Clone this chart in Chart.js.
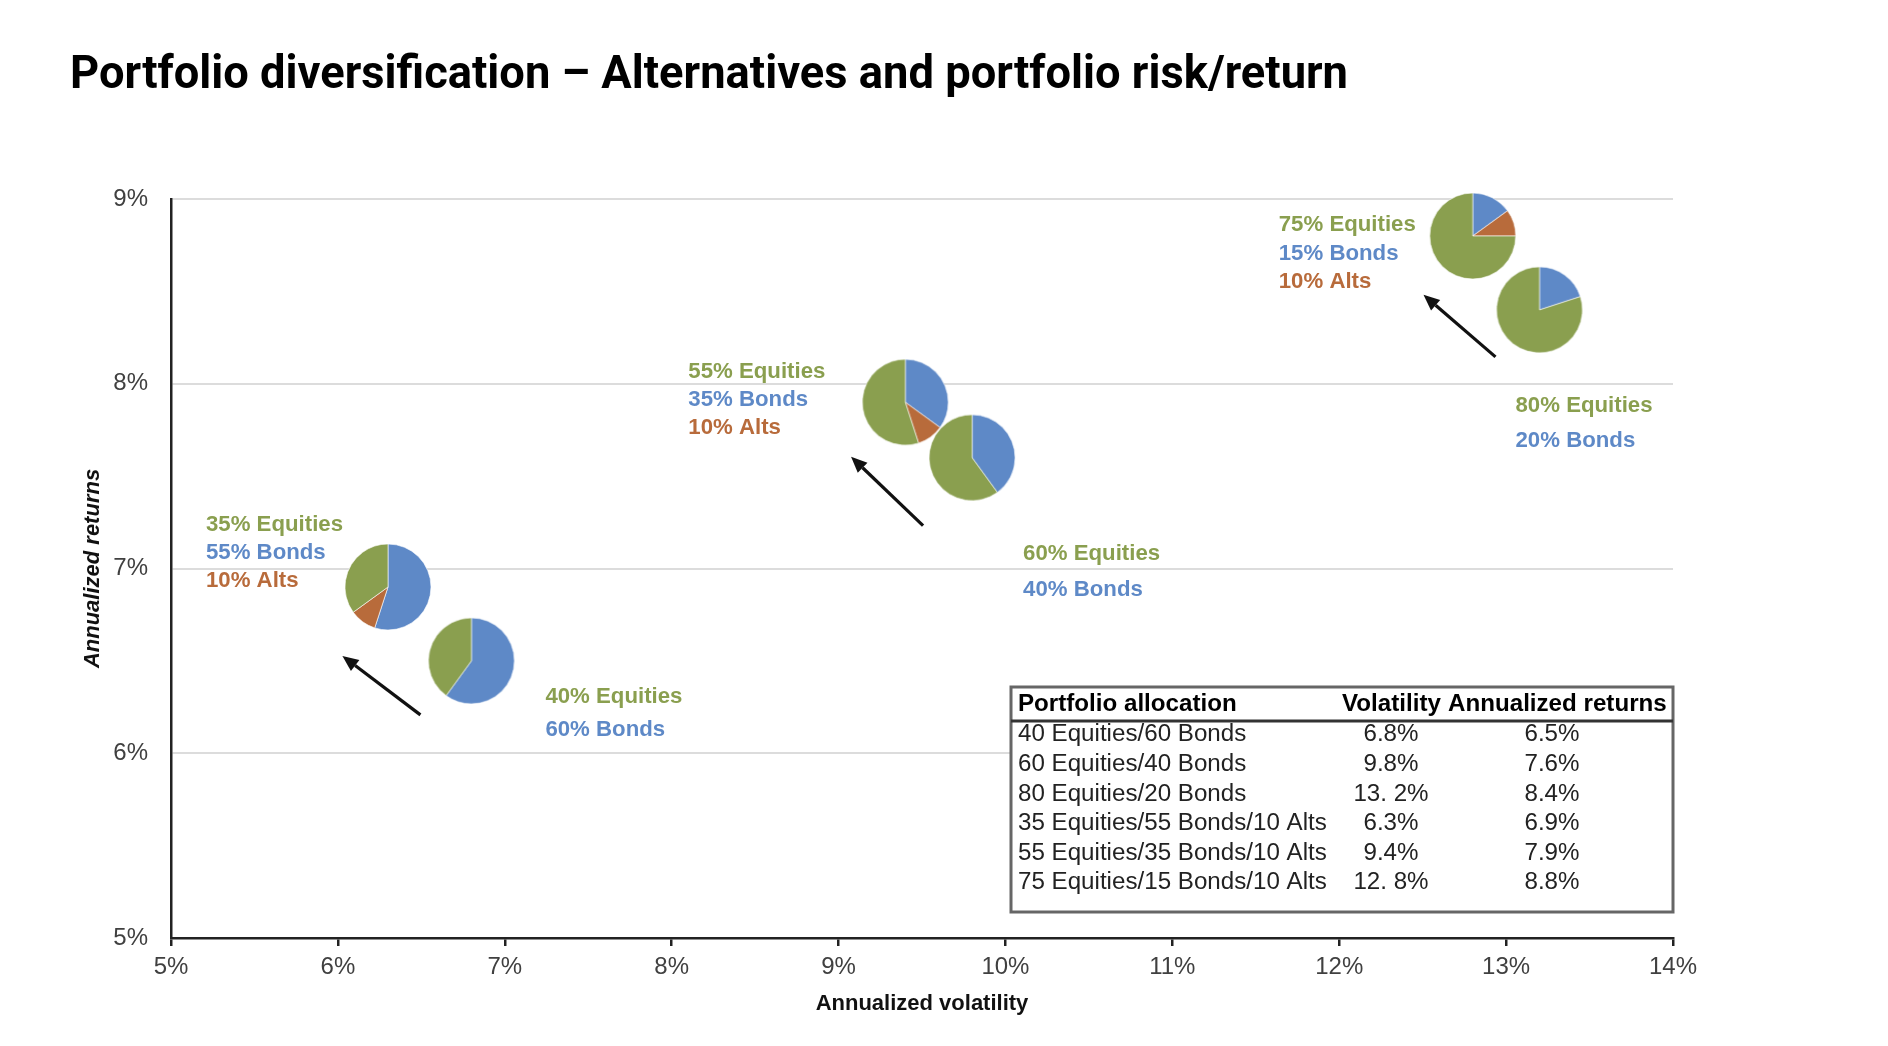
<!DOCTYPE html>
<html>
<head>
<meta charset="utf-8">
<script src="https://cdn.jsdelivr.net/npm/chart.js@4.4.1/dist/chart.umd.min.js"></script>
<style>
  html, body { margin: 0; padding: 0; background: #fff; }
  #wrap { width: 1888px; height: 1046px; position: relative; }
</style>
</head>
<body>
<div id="wrap"><canvas id="myChart"></canvas></div>
<script>
const chartTitle = 'Portfolio diversification \u2013 Alternatives and portfolio risk/return';

// portfolios, in the order of the table
const allocations = [
  '40 Equities/60 Bonds',
  '60 Equities/40 Bonds',
  '80 Equities/20 Bonds',
  '35 Equities/55 Bonds/10 Alts',
  '55 Equities/35 Bonds/10 Alts',
  '75 Equities/15 Bonds/10 Alts'
];
const volatility = [6.8, 9.8, 13.2, 6.3, 9.4, 12.8];   // x, %
const returns    = [6.5, 7.6, 8.4, 6.9, 7.9, 8.8];     // y, %
const volText    = ['6.8%', '9.8%', '13. 2%', '6.3%', '9.4%', '12. 8%'];
const retText    = ['6.5%', '7.6%', '8.4%', '6.9%', '7.9%', '8.8%'];

const equities = [40, 60, 80, 35, 55, 75];
const bonds    = [60, 40, 20, 55, 35, 15];
const alts     = [0, 0, 0, 10, 10, 10];

const xTickLabels = ['5%', '6%', '7%', '8%', '9%', '10%', '11%', '12%', '13%', '14%'];
const yTickLabels = ['5%', '6%', '7%', '8%', '9%'];

const GREEN = '#8a9f4f', BLUE = '#5e89c7', ORANGE = '#b86b3b';
const FONT = "'Liberation Sans', Arial, sans-serif";
const PIE_R = 43;

// label placement relative to each pie: [dx, dy of first line, line gap]
const labelOffsets = [[74, 36, 33], [51, 96, 36], [-24, 96, 35], [-182, -62, 28], [-217, -30, 28], [-194, -11, 28.5]];
// arrows from the two-asset pies: [tail dx, tail dy, tip dx, tip dy]
const arrowOffsets = [[-51, 54, -129, -5], [-49, 68, -121, -1], [-44, 47, -116, -15]];

function makePie(i) {
  const c = document.createElement('canvas');
  c.width = c.height = PIE_R * 2 + 4;
  const g = c.getContext('2d');
  const cc = PIE_R + 2;
  let a = -Math.PI / 2;
  [[bonds[i], BLUE], [alts[i], ORANGE], [equities[i], GREEN]].forEach(([v, col]) => {
    if (!v) return;
    const b = a + v / 100 * Math.PI * 2;
    g.beginPath();
    g.moveTo(cc, cc);
    g.arc(cc, cc, PIE_R, a, b);
    g.closePath();
    g.fillStyle = col;
    g.fill();
    g.strokeStyle = 'rgba(255,255,255,0.6)';
    g.lineWidth = 1;
    g.stroke();
    a = b;
  });
  return c;
}
const pies = allocations.map((_, i) => makePie(i));

function scaledText(ctx, text, x, y, sx, align) {
  ctx.save();
  ctx.translate(x, y);
  ctx.scale(sx, 1);
  ctx.textAlign = align || 'left';
  ctx.fillText(text, 0, 0);
  ctx.restore();
}

const overlay = {
  id: 'overlay',
  afterDatasetsDraw(chart) {
    const ctx = chart.ctx;
    const pts = chart.getDatasetMeta(0).data;

    // pie labels
    ctx.save();
    ctx.font = 'bold 22px ' + FONT;
    ctx.textBaseline = 'middle';
    pts.forEach((p, i) => {
      const [dx, dy, gap] = labelOffsets[i];
      const lines = [[equities[i] + '% Equities', GREEN], [bonds[i] + '% Bonds', BLUE]];
      if (alts[i]) lines.push([alts[i] + '% Alts', ORANGE]);
      lines.forEach(([t, col], k) => {
        ctx.fillStyle = col;
        scaledText(ctx, t, p.x + dx, p.y + dy + k * gap, 1.01);
      });
    });
    ctx.restore();

    // arrows
    ctx.save();
    ctx.strokeStyle = '#111';
    ctx.fillStyle = '#111';
    ctx.lineWidth = 3.2;
    arrowOffsets.forEach((o, i) => {
      const p = pts[i];
      const x1 = p.x + o[0], y1 = p.y + o[1], x2 = p.x + o[2], y2 = p.y + o[3];
      const ang = Math.atan2(y2 - y1, x2 - x1);
      const hl = 16, hw = 7;
      const bx = x2 - hl * Math.cos(ang), by = y2 - hl * Math.sin(ang);
      ctx.beginPath();
      ctx.moveTo(x1, y1);
      ctx.lineTo(bx, by);
      ctx.stroke();
      ctx.beginPath();
      ctx.moveTo(x2, y2);
      ctx.lineTo(bx + hw * Math.sin(ang), by - hw * Math.cos(ang));
      ctx.lineTo(bx - hw * Math.sin(ang), by + hw * Math.cos(ang));
      ctx.closePath();
      ctx.fill();
    });
    ctx.restore();
  },
  afterDraw(chart) {
    const ctx = chart.ctx;
    const area = chart.chartArea;

    // title
    ctx.save();
    ctx.font = '700 46px Roboto';
    const w = ctx.measureText(chartTitle).width;
    ctx.translate(70, 88);
    ctx.scale(1278 / w, 1);
    ctx.fillStyle = '#000';
    ctx.textBaseline = 'alphabetic';
    ctx.fillText(chartTitle, 0, 0);
    ctx.restore();

    // table
    const left = 1011, right = area.right, top = 687, bottom = 912;
    ctx.save();
    ctx.fillStyle = '#fff';
    ctx.fillRect(left, top, right - left, bottom - top);
    ctx.strokeStyle = '#666';
    ctx.lineWidth = 3;
    ctx.strokeRect(left, top, right - left, bottom - top);
    ctx.strokeStyle = '#333';
    ctx.beginPath();
    ctx.moveTo(left, 721);
    ctx.lineTo(right, 721);
    ctx.stroke();

    ctx.textBaseline = 'middle';
    ctx.fillStyle = '#000';
    ctx.font = 'bold 23px ' + FONT;
    scaledText(ctx, 'Portfolio allocation', 1018, 705, 1.05);
    scaledText(ctx, 'Volatility', 1342, 705, 1.05);
    scaledText(ctx, 'Annualized returns', 1448, 705, 1.05);

    ctx.fillStyle = '#222';
    ctx.font = '23px ' + FONT;
    allocations.forEach((a, i) => {
      const y = 735 + i * 29.6;
      scaledText(ctx, a, 1018, y, 1.05);
      scaledText(ctx, volText[i], 1391, y, 1.05, 'center');
      scaledText(ctx, retText[i], 1552, y, 1.05, 'center');
    });
    ctx.restore();
  }
};

const myChart = new Chart('myChart', {
  type: 'scatter',
  data: {
    datasets: [{
      label: 'Portfolios',
      data: volatility.map((v, i) => ({ x: v, y: returns[i] })),
      pointStyle: pies,
      pointRadius: PIE_R,
      pointHoverRadius: PIE_R,
      clip: false
    }]
  },
  options: {
    responsive: true,
    maintainAspectRatio: false,
    animation: false,
    events: [],
    layout: { padding: { top: 199, right: 215, bottom: 25, left: 76 } },
    plugins: {
      legend: { display: false },
      tooltip: { enabled: false }
    },
    scales: {
      x: {
        type: 'linear',
        min: 5,
        max: 14,
        ticks: {
          stepSize: 1,
          callback: (v, i) => xTickLabels[i],
          color: '#404040',
          font: { family: FONT, size: 24 },
          padding: 7
        },
        grid: { drawOnChartArea: false, drawTicks: true, tickLength: 8, color: '#222', lineWidth: 2.5 },
        border: { color: '#222', width: 2.5 },
        title: {
          display: true,
          text: 'Annualized volatility',
          color: '#111',
          font: { family: FONT, size: 22, weight: 'bold' },
          padding: { top: 4, bottom: 4 }
        },
        afterFit: s => { s.height = 83; }
      },
      y: {
        min: 5,
        max: 9,
        ticks: {
          stepSize: 1,
          callback: (v, i) => yTickLabels[i],
          color: '#404040',
          font: { family: FONT, size: 24 },
          padding: 23
        },
        grid: { color: '#dcdcdc', lineWidth: 2, drawTicks: false },
        border: { color: '#222', width: 2.5 },
        title: {
          display: true,
          text: 'Annualized returns',
          color: '#111',
          font: { family: FONT, size: 22, weight: 'bold', style: 'italic' },
          padding: { top: 4, bottom: 4 }
        },
        afterFit: s => { s.width = 95; }
      }
    }
  },
  plugins: [overlay]
});
</script>
</body>
</html>
